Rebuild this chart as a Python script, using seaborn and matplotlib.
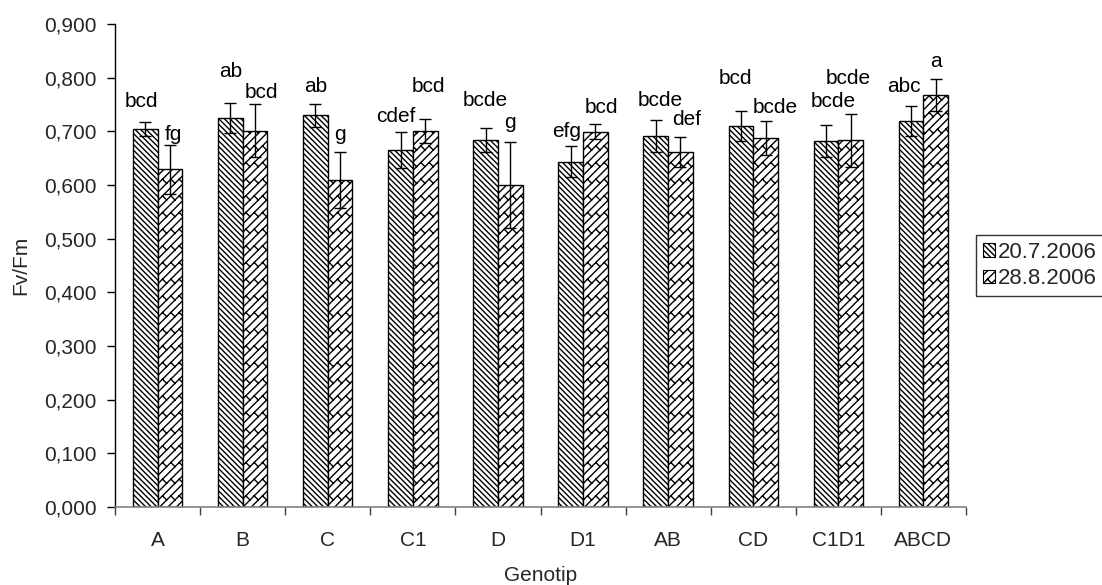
import numpy as np
import pandas as pd
import matplotlib
matplotlib.use("Agg")
import matplotlib.pyplot as plt
import matplotlib.hatch as mhatch
from matplotlib.path import Path
from matplotlib.patches import Patch
from matplotlib.ticker import FuncFormatter, MultipleLocator, FixedLocator
import seaborn as sns

# ---------------- data ----------------
genotypes = ["A", "B", "C", "C1", "D", "D1", "AB", "CD", "C1D1", "ABCD"]
dates = ["20.7.2006", "28.8.2006"]
mean_0720 = [0.705, 0.725, 0.730, 0.665, 0.684, 0.643, 0.692, 0.710, 0.682, 0.719]
mean_0828 = [0.629, 0.701, 0.609, 0.701, 0.600, 0.699, 0.661, 0.688, 0.683, 0.768]
err_0720 = [0.013, 0.028, 0.021, 0.033, 0.022, 0.029, 0.030, 0.028, 0.030, 0.028]
err_0828 = [0.046, 0.049, 0.052, 0.022, 0.080, 0.014, 0.028, 0.032, 0.049, 0.030]
letters_0720 = ["bcd", "ab", "ab", "cdef", "bcde", "efg", "bcde", "bcd", "bcde", "abc"]
letters_0828 = ["fg", "bcd", "g", "bcd", "g", "bcd", "def", "bcde", "bcde", "a"]
# letter label baselines
label_y_0720 = [0.746, 0.802, 0.774, 0.717, 0.748, 0.690, 0.747, 0.788, 0.746, 0.774]
label_y_0828 = [0.684, 0.763, 0.684, 0.774, 0.706, 0.734, 0.711, 0.734, 0.789, 0.820]
label_dx_0720 = [-0.05, 0.0, 0.0, -0.06, 0.0, -0.05, 0.05, -0.07, 0.09, -0.09]
label_dx_0828 = [0.04, 0.08, 0.0, 0.04, 0.0, 0.07, 0.07, 0.11, -0.03, 0.0]


# ------------- custom "diagonal brick" hatch (mapped to '*') -------------
class BrickHatch(mhatch.HatchPatternBase):
    def __init__(self, hatch, density):
        segs = []
        if hatch.count('*') > 0:
            m = 12
            h = 1.0 / m
            w = 2 * h
            for k in range(-m - 2, m + 2):
                c = k * h
                segs.append(((-0.2, -0.2 + c), (1.2, 1.2 + c)))
                off = (k % 2) * w / 2
                for j in range(-2, int(round(1 / w)) + 3):
                    t = j * w + off
                    segs.append(((t, t + c), (t - h / 2, t + c + h / 2)))
        self.segs = segs
        self.num_vertices = len(segs) * 2

    def set_vertices_and_codes(self, vertices, codes):
        for i, (p, q) in enumerate(self.segs):
            vertices[2 * i] = p
            vertices[2 * i + 1] = q
            codes[2 * i] = Path.MOVETO
            codes[2 * i + 1] = Path.LINETO


mhatch._hatch_types = [t for t in mhatch._hatch_types if t is not mhatch.Stars] + [BrickHatch]

# ---------------- style ----------------
sns.set_style("white")
plt.rcParams["font.family"] = ["Liberation Sans", "DejaVu Sans"]
plt.rcParams["hatch.linewidth"] = 1.0
plt.rcParams["hatch.color"] = "black"
FS = 15

df = pd.DataFrame({
    "Genotip": genotypes * 2,
    "Datum": [dates[0]] * len(genotypes) + [dates[1]] * len(genotypes),
    "Fv/Fm": mean_0720 + mean_0828,
})

fig = plt.figure(figsize=(11.02, 5.85), dpi=100)
ax = fig.add_axes([115 / 1102, 1 - 507 / 585, (966 - 115) / 1102, (507 - 24) / 585])

sns.barplot(data=df, x="Genotip", y="Fv/Fm", hue="Datum", order=genotypes,
            hue_order=dates, palette=["white", "white"], width=0.58,
            errorbar=None, edgecolor="black", linewidth=1.0, ax=ax, legend=False)

hatches = ["\\\\\\\\\\\\", "*"]
errs = [err_0720, err_0828]
means = [mean_0720, mean_0828]
letters = [letters_0720, letters_0828]
label_ys = [label_y_0720, label_y_0828]
label_dxs = [label_dx_0720, label_dx_0828]
bar_containers = list(ax.containers)
for ci, cont in enumerate(bar_containers):
    xs = []
    for bar in cont.patches:
        bar.set_hatch(hatches[ci])
        bar.set_facecolor("white")
        bar.set_edgecolor("black")
        xs.append(bar.get_x() + bar.get_width() / 2)
    ax.errorbar(xs, means[ci], yerr=errs[ci], fmt="none", ecolor="black",
                elinewidth=1.0, capsize=4, capthick=1.0, zorder=5)
    for x, ly, dx, txt in zip(xs, label_ys[ci], label_dxs[ci], letters[ci]):
        ax.text(x + dx, ly, txt, ha="center", va="baseline", fontsize=FS, color="black")

ax.set_ylim(0, 0.9)
ax.set_xlim(-0.5, len(genotypes) - 0.5)
ax.yaxis.set_major_locator(MultipleLocator(0.1))
ax.yaxis.set_major_formatter(FuncFormatter(lambda v, p: f"{v:.3f}".replace(".", ",")))
ax.xaxis.set_minor_locator(FixedLocator(np.arange(-0.5, len(genotypes), 1.0)))
ax.tick_params(axis="x", which="major", length=0, pad=17, labelsize=FS)
ax.tick_params(axis="x", which="minor", length=6, width=1, color="#404040", direction="out", bottom=True)
ax.tick_params(axis="y", which="major", length=6, width=1, color="black", direction="out",
               left=True, pad=7, labelsize=FS)

for s in ["top", "right"]:
    ax.spines[s].set_visible(False)
ax.spines["left"].set_color("black")
ax.spines["left"].set_linewidth(1.0)
ax.spines["bottom"].set_color("#808080")
ax.spines["bottom"].set_linewidth(1.2)

ax.set_xlabel("Genotip", fontsize=FS, labelpad=12)
ax.set_ylabel("Fv/Fm", fontsize=FS, labelpad=10)

handles = [Patch(facecolor="white", edgecolor="black", hatch=hatches[i], linewidth=0.8, label=dates[i])
           for i in range(2)]
leg = fig.legend(handles=handles, loc="upper left", bbox_to_anchor=(976 / 1102, 1 - 235 / 585),
                 fontsize=16, frameon=True, fancybox=False, edgecolor="black",
                 handlelength=0.55, handleheight=0.55, handletextpad=0.15,
                 labelspacing=0.25, borderpad=0.3, borderaxespad=0.0)
leg.get_frame().set_linewidth(1.0)

fig.savefig("out.png", dpi=100)
